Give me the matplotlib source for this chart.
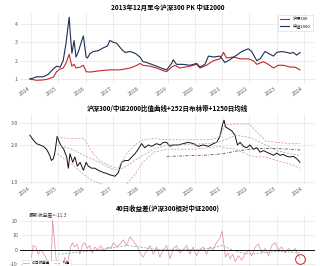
import matplotlib
matplotlib.use("Agg")
import matplotlib.pyplot as plt
import numpy as np

plt.rcParams['font.family'] = ['Noto Sans CJK SC', 'DejaVu Sans']
plt.rcParams['axes.unicode_minus'] = False

# ---------------- data ----------------
years_ticks = [2014, 2015, 2016, 2017, 2018, 2019, 2020, 2021, 2022, 2023, 2024]
tick_labels = [str(y) for y in years_ticks]

zz_t = [2013.96, 2014.08, 2014.2, 2014.45, 2014.63, 2014.82, 2014.94, 2015.07, 2015.18, 2015.28,
        2015.4, 2015.45, 2015.5, 2015.58, 2015.65, 2015.74, 2015.82, 2015.92, 2016.02, 2016.07,
        2016.17, 2016.29, 2016.47, 2016.65, 2016.8, 2016.89, 2017.02, 2017.14, 2017.33, 2017.45,
        2017.63, 2017.82, 2017.99, 2018.1, 2018.24, 2018.42, 2018.6, 2018.85, 2018.97, 2019.15,
        2019.21, 2019.33, 2019.57, 2019.82, 2020.07, 2020.19, 2020.37, 2020.5, 2020.68, 2020.92,
        2021.1, 2021.28, 2021.53, 2021.72, 2021.96, 2022.08, 2022.27, 2022.39, 2022.57, 2022.69,
        2022.88, 2023.0, 2023.18, 2023.37, 2023.49, 2023.61, 2023.73, 2023.85]
zz_v = [1.0, 1.05, 1.12, 1.12, 1.25, 1.55, 1.7, 1.65, 2.0, 2.9,
        4.37, 3.3, 2.4, 3.1, 2.2, 2.5, 2.9, 3.35, 2.2, 2.15,
        2.4, 2.5, 2.55, 2.7, 2.8, 3.1, 3.0, 2.95, 2.6, 2.45,
        2.5, 2.4, 2.2, 1.95, 1.9, 1.8, 1.7, 1.55, 1.5, 1.85,
        2.05, 1.8, 1.8, 1.75, 1.85, 1.65, 1.8, 2.25, 2.2, 2.25,
        1.9, 2.05, 2.3, 2.5, 2.65, 2.5, 2.0, 2.1, 2.5, 2.4,
        2.25, 2.45, 2.5, 2.45, 2.4, 2.45, 2.3, 2.45]

hs_t = [2013.96, 2014.2, 2014.45, 2014.63, 2014.82, 2014.94, 2015.07, 2015.18, 2015.28, 2015.4,
        2015.45, 2015.5, 2015.58, 2015.65, 2015.8, 2015.92, 2016.02, 2016.17, 2016.53, 2016.89,
        2017.26, 2017.63, 2017.88, 2018.0, 2018.1, 2018.36, 2018.6, 2018.85, 2018.97, 2019.15,
        2019.27, 2019.45, 2019.82, 2020.07, 2020.19, 2020.43, 2020.68, 2020.92, 2021.05, 2021.16,
        2021.41, 2021.66, 2021.96, 2022.14, 2022.27, 2022.51, 2022.69, 2022.88, 2023.06, 2023.24,
        2023.49, 2023.67, 2023.85]
hs_v = [1.0, 0.93, 0.95, 1.0, 1.1, 1.4, 1.55, 1.6, 1.85, 2.35,
        2.0, 1.7, 1.8, 1.6, 1.65, 1.75, 1.4, 1.38, 1.45, 1.5,
        1.5, 1.6, 1.75, 1.85, 1.75, 1.7, 1.6, 1.45, 1.4, 1.65,
        1.75, 1.6, 1.7, 1.8, 1.6, 1.75, 2.0, 2.1, 2.45, 2.15,
        2.2, 2.1, 2.1, 2.0, 1.8, 1.95, 1.8, 1.6, 1.75, 1.75,
        1.65, 1.65, 1.5]

ratio_t = [2013.96, 2014.08, 2014.2, 2014.33, 2014.45, 2014.57, 2014.69, 2014.75, 2014.82, 2014.88,
           2014.96, 2015.04, 2015.12, 2015.2, 2015.31, 2015.37, 2015.43, 2015.53, 2015.61, 2015.7,
           2015.8, 2015.92, 2016.02, 2016.1, 2016.22, 2016.34, 2016.47, 2016.65, 2016.77, 2016.89,
           2017.08, 2017.2, 2017.32, 2017.44, 2017.57, 2017.69, 2017.81, 2017.93, 2018.05, 2018.17,
           2018.3, 2018.42, 2018.6, 2018.73, 2018.85, 2018.97, 2019.09, 2019.21, 2019.4, 2019.58,
           2019.76, 2019.95, 2020.13, 2020.31, 2020.5, 2020.68, 2020.8, 2020.92, 2021.02, 2021.07,
           2021.12, 2021.23, 2021.35, 2021.47, 2021.56, 2021.66, 2021.78, 2021.9, 2022.02, 2022.14,
           2022.27, 2022.39, 2022.51, 2022.63, 2022.76, 2022.88, 2023.0, 2023.12, 2023.24, 2023.37,
           2023.49, 2023.61, 2023.73, 2023.85]
ratio_v = [2.40, 2.2, 2.05, 2.0, 1.95, 1.85, 1.65, 1.5, 1.55, 1.75,
           2.35, 2.1, 1.95, 1.85, 1.6, 1.3, 1.7, 1.45, 1.6, 1.35,
           1.45, 1.25, 1.45, 1.35, 1.3, 1.3, 1.25, 1.2, 1.18, 1.15,
           1.12, 1.2, 1.45, 1.5, 1.5, 1.6, 1.7, 1.85, 2.05, 1.9,
           2.0, 1.95, 2.05, 2.0, 2.1, 2.1, 1.95, 2.0, 2.0, 2.05,
           2.1, 2.05, 1.95, 2.0, 1.95, 2.05, 2.1, 2.35, 2.95, 3.17,
           2.8, 2.7, 2.6, 2.4, 2.0, 2.1, 1.95, 1.9, 2.0, 1.85,
           1.9, 1.75, 1.8, 1.75, 1.7, 1.65, 1.72, 1.65, 1.68, 1.62,
           1.6, 1.62, 1.55, 1.45]

band_t = [2014.96, 2015.5, 2015.95, 2016.2, 2016.5, 2016.9, 2017.2, 2017.5, 2017.8, 2018.1,
          2018.5, 2019.0, 2019.5, 2020.0, 2020.5, 2020.9, 2021.1, 2021.5, 2022.0, 2022.3,
          2022.6, 2023.0, 2023.5, 2023.85]
upper_v = [2.3, 2.25, 2.25, 1.8, 1.5, 1.35, 1.3, 1.7, 2.0, 2.2,
           2.25, 2.2, 2.2, 2.2, 2.2, 2.3, 2.9, 2.95, 2.95, 2.5,
           2.15, 2.1, 2.05, 2.05]
mid_v = [2.0, 1.85, 1.65, 1.55, 1.45, 1.3, 1.25, 1.35, 1.5, 1.65,
         1.85, 2.0, 2.02, 2.03, 2.05, 2.12, 2.2, 2.4, 2.3, 2.15,
         2.0, 1.8, 1.7, 1.65]
lower_v = [1.7, 1.4, 1.15, 1.05, 0.98, 0.95, 0.93, 0.97, 1.15, 1.45,
           1.75, 1.85, 1.85, 1.85, 1.9, 1.95, 1.9, 1.85, 1.65, 1.6,
           1.6, 1.5, 1.4, 1.3]

ma_t = [2018.97, 2019.5, 2020.0, 2020.5, 2021.0, 2021.5, 2022.0, 2022.5, 2023.0, 2023.5, 2023.85]
ma_v = [1.62, 1.63, 1.65, 1.66, 1.7, 1.78, 1.85, 1.88, 1.87, 1.85, 1.82]

diff_t = [2014.02, 2014.08, 2014.18, 2014.27, 2014.36, 2014.45, 2014.57, 2014.67, 2014.75, 2014.79,
          2014.87, 2014.93, 2014.99, 2015.05, 2015.13, 2015.24, 2015.3, 2015.45, 2015.52, 2015.6,
          2015.69, 2015.79, 2015.88, 2015.97, 2016.06, 2016.15, 2016.25, 2016.34, 2016.44, 2016.56,
          2016.68, 2016.81, 2016.93, 2017.02, 2017.14, 2017.26, 2017.38, 2017.5, 2017.63, 2017.75,
          2017.87, 2017.99, 2018.11, 2018.24, 2018.36, 2018.48, 2018.6, 2018.72, 2018.84, 2018.97,
          2019.09, 2019.21, 2019.33, 2019.45, 2019.57, 2019.7, 2019.82, 2019.94, 2020.06, 2020.18,
          2020.31, 2020.43, 2020.55, 2020.67, 2020.79, 2020.92, 2021.0, 2021.05, 2021.12, 2021.21,
          2021.29, 2021.39, 2021.48, 2021.6, 2021.72, 2021.84, 2021.96, 2022.09, 2022.21, 2022.33,
          2022.45, 2022.57, 2022.7, 2022.82, 2022.94, 2023.06, 2023.18, 2023.3, 2023.43, 2023.55,
          2023.67, 2023.77, 2023.85]
diff_v = [-5, 3, 2, -3, 0, -2, -6, -12, -8, 20.5,
          5, -8, -15, -10, -18, -5, -14, 2, 5, 2,
          4, -3, 3, 5, 1, 3, -2, 2, 0, 3,
          -1, 2, 1, 5, 2, 4, 7, 3, 9, 6,
          3, -2, -5, 0, 3, -3, 2, -5, 0, 3,
          -6, 1, 3, -2, 0, 3, -3, 2, -4, 0,
          2, -3, 2, 0, 5, 8, 13, 6, -5, -2,
          -6, -3, -8, -4, -7, -3, 0, -4, 2, 4,
          -2, 1, -4, 3, 5, 0, 2, -2, 1, -1,
          1, -3, -6]

avg_t = [2015.0, 2015.5, 2016.0, 2016.5, 2017.0, 2017.5, 2018.0, 2018.5, 2019.0, 2019.5,
         2020.0, 2020.5, 2021.0, 2021.5, 2022.0, 2022.5, 2023.0, 2023.5, 2023.85]
avg_v = [-3, -2, -1, 0, 1.5, 3, 2, 0.5, 0, 0.5,
         0, 1, 3, -1, -3, -2, -1, -1.5, -2]

latest_text = "最新收益差=-11.3"

# ---------------- figure ----------------
W, H = 320, 266
fig = plt.figure(figsize=(W / 100, H / 100), dpi=100)
fig.patch.set_facecolor('white')

L, R = 20 / W, 315 / W
XLIM = (2013.6, 2024.4)
grid_c = '#e6e6e6'
tick_c = '#555555'


def style(ax, xlabels=True):
    for s in ax.spines.values():
        s.set_visible(False)
    ax.set_xlim(*XLIM)
    ax.set_xticks(years_ticks)
    ax.set_xticklabels(tick_labels, rotation=35, ha='right', fontsize=3.3, color=tick_c)
    ax.tick_params(axis='both', length=0, pad=1.5, labelsize=3.8, labelcolor=tick_c)
    if not xlabels:
        ax.tick_params(axis='x', labelbottom=False)
    ax.grid(True, color=grid_c, lw=0.5)
    ax.set_axisbelow(True)


def ax_at(top_px, bot_px):
    return fig.add_axes([L, 1 - bot_px / H, R - L, (bot_px - top_px) / H])


# top panel
ax1 = ax_at(13, 83.6)
style(ax1)
ax1.plot(hs_t, hs_v, color='#c0282d', lw=0.8, label='沪深300')
ax1.plot(zz_t, zz_v, color='#1c2f55', lw=0.8, label='中证2000')
ax1.set_ylim(0.75, 4.6)
ax1.set_yticks([1, 2, 3, 4])
ax1.set_yticklabels(['1', '2', '3', '4'])
ax1.set_title('2013年12月至今沪深300 PK 中证2000', fontsize=4.7, fontweight='bold', pad=2.5)
leg = ax1.legend(loc='upper right', fontsize=3, frameon=True, handlelength=2.2,
                 borderpad=0.6, labelspacing=0.5, fancybox=False)
leg.get_frame().set_linewidth(0.4)
leg.get_frame().set_edgecolor('#cccccc')

# middle panel
ax2 = ax_at(114, 184)
style(ax2)
ax2.set_yscale('log')
ax2.plot(ratio_t, ratio_v, color='#111111', lw=0.7)
ax2.plot(band_t, upper_v, color='#d89090', lw=0.5, ls=(0, (3, 2)))
ax2.plot(band_t, lower_v, color='#d89090', lw=0.5, ls=(0, (3, 2)))
ax2.plot(band_t, mid_v, color='#a0a0a0', lw=0.5, ls=(0, (3, 2)))
ax2.plot(ma_t, ma_v, color='#333333', lw=0.5, ls=(0, (4, 2, 1, 2)))
ax2.set_ylim(0.97, 3.55)
ax2.set_yticks([1, 2, 3])
ax2.set_yticklabels(['1.0', '2.0', '3.0'])
ax2.yaxis.set_minor_locator(matplotlib.ticker.NullLocator())
ax2.set_title('沪深300/中证2000比值曲线+252日布林带+1250日均线', fontsize=4.7, fontweight='bold', pad=2.5)

# bottom panel
ax3 = ax_at(215, 279)
style(ax3, xlabels=False)
ax3.plot(diff_t, diff_v, color='#e0879a', lw=0.5, label='40日收益差')
ax3.plot(avg_t, avg_v, color='#86a596', lw=0.5, ls=(0, (3, 2)), label='均值')
ax3.axhline(0, color='#111111', lw=0.7)
ax3.plot([diff_t[-1]], [diff_v[-1]], 'o', ms=7, mfc='none', mec='#d02020', mew=0.7)
ax3.set_ylim(-20, 24)
ax3.set_yticks([-10, 0, 10, 20])
ax3.set_yticklabels(['-10', '0', '10', '20'])
ax3.set_title('40日收益差(沪深300相对中证2000)', fontsize=4.7, fontweight='bold', pad=3)
ax3.text(0.03, 0.985, latest_text, transform=ax3.transAxes, fontsize=3.5,
         va='center', ha='left', color='#333333')
leg3 = ax3.legend(loc='upper left', bbox_to_anchor=(0.0, 0.33), fontsize=2.6, ncol=2,
                  frameon=True, fancybox=False, handlelength=1.8, borderpad=0.3,
                  columnspacing=0.8)
leg3.get_frame().set_linewidth(0.4)

fig.savefig('out.png', dpi=100, facecolor='white')
